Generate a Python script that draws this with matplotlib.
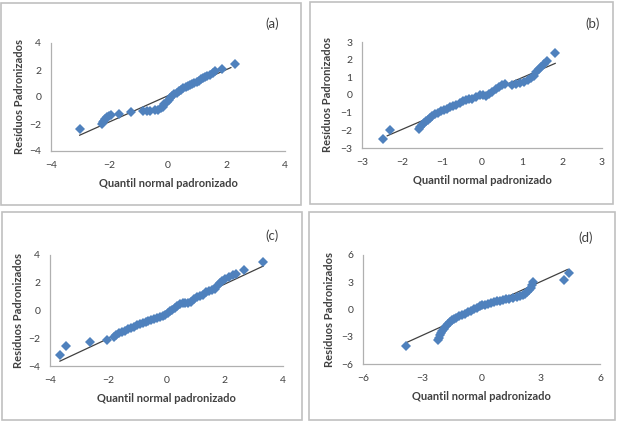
import matplotlib.pyplot as plt
from matplotlib.patches import Rectangle

# Painel (a): quantis normais e residuos padronizados
a_x = [-3.02, -2.27, -2.22, -2.18, -2.14, -2.08, -2.02, -1.96, -1.68, -1.28,
       -0.85, -0.72, -0.6, -0.45, -0.35, -0.25, -0.18, -0.12, -0.05, 0.02,
       0.08, 0.15, 0.22, 0.3, 0.38, 0.45, 0.52, 0.6, 0.68, 0.75,
       0.82, 0.9, 0.98, 1.05, 1.12, 1.2, 1.28, 1.35, 1.45, 1.55,
       1.62, 1.85, 2.3]
a_y = [-2.35, -2.0, -1.85, -1.75, -1.62, -1.5, -1.42, -1.3, -1.27, -1.1,
       -1.05, -1.02, -1.0, -0.98, -0.95, -0.85, -0.72, -0.55, -0.4, -0.25,
       -0.1, 0.05, 0.2, 0.32, 0.45, 0.55, 0.65, 0.72, 0.82, 0.9,
       1.0, 1.05, 1.12, 1.2, 1.3, 1.4, 1.5, 1.58, 1.65, 1.8,
       1.9, 2.05, 2.48]
a_line_x = [-3.02, 2.15]
a_line_y = [-2.83, 2.18]

# Painel (b)
b_x = [-2.48, -2.29, -1.58, -1.55, -1.5, -1.45, -1.4, -1.35, -1.3, -1.25,
       -1.18, -1.1, -1.02, -0.95, -0.88, -0.8, -0.72, -0.64, -0.56, -0.48,
       -0.4, -0.32, -0.24, -0.15, -0.06, 0.02, 0.1, 0.18, 0.26, 0.34,
       0.42, 0.5, 0.58, 0.75, 0.85, 0.95, 1.05, 1.15, 1.22, 1.3,
       1.36, 1.42, 1.48, 1.55, 1.62, 1.82]
b_y = [-2.5, -2.0, -1.9, -1.82, -1.72, -1.6, -1.5, -1.4, -1.28, -1.2,
       -1.1, -1.0, -0.92, -0.85, -0.78, -0.7, -0.62, -0.55, -0.45, -0.36,
       -0.3, -0.25, -0.2, -0.1, 0.0, 0.02, -0.05, 0.08, 0.18, 0.32,
       0.45, 0.55, 0.6, 0.58, 0.6, 0.66, 0.76, 0.86, 0.95, 1.1,
       1.3, 1.45, 1.6, 1.75, 1.95, 2.38]
b_line_x = [-2.37, 1.83]
b_line_y = [-2.31, 1.79]

# Painel (c)
c_x = [-3.66, -3.46, -2.62, -2.05, -1.8, -1.72, -1.62, -1.52, -1.42, -1.32,
       -1.22, -1.12, -1.02, -0.92, -0.82, -0.72, -0.62, -0.52, -0.42, -0.32,
       -0.22, -0.12, -0.04, 0.05, 0.12, 0.2, 0.28, 0.36, 0.45, 0.55,
       0.65, 0.75, 0.85, 0.95, 1.05, 1.15, 1.25, 1.35, 1.45, 1.55,
       1.65, 1.75, 1.82, 1.9, 2.0, 2.15, 2.3, 2.4, 2.65, 3.33]
c_y = [-3.18, -2.58, -2.28, -2.1, -1.88, -1.78, -1.65, -1.55, -1.45, -1.35,
       -1.26, -1.18, -1.08, -1.0, -0.92, -0.85, -0.78, -0.7, -0.6, -0.52,
       -0.45, -0.4, -0.3, -0.18, -0.05, 0.05, 0.15, 0.32, 0.5, 0.55,
       0.55, 0.52, 0.6, 0.8, 0.98, 1.05, 1.15, 1.3, 1.4, 1.45,
       1.55, 1.8, 2.0, 2.15, 2.3, 2.4, 2.55, 2.65, 2.95, 3.5]
c_line_x = [-3.66, 3.32]
c_line_y = [-3.65, 3.2]

# Painel (d)
d_x = [-3.8, -2.2, -2.15, -2.1, -2.05, -2.0, -1.9, -1.8, -1.7, -1.6,
       -1.5, -1.4, -1.3, -1.15, -1.0, -0.85, -0.7, -0.55, -0.4, -0.25,
       -0.1, 0.05, 0.2, 0.35, 0.5, 0.65, 0.8, 0.95, 1.1, 1.25,
       1.4, 1.6, 1.8, 1.95, 2.1, 2.2, 2.3, 2.4, 2.5, 2.55,
       2.62, 4.2, 4.42]
d_y = [-4.0, -3.35, -3.1, -2.8, -2.55, -2.35, -2.1, -1.85, -1.6, -1.4,
       -1.2, -1.05, -0.9, -0.75, -0.6, -0.45, -0.3, -0.15, 0.05, 0.2,
       0.35, 0.45, 0.55, 0.62, 0.7, 0.8, 0.9, 0.98, 1.05, 1.15,
       1.2, 1.3, 1.35, 1.45, 1.6, 1.75, 1.9, 2.1, 2.4, 2.7,
       3.0, 3.2, 4.0]
d_line_x = [-3.78, 4.35]
d_line_y = [-3.62, 4.4]

ticks_abc = [-4, -2, 0, 2, 4]
ticks_b = [-3, -2, -1, 0, 1, 2, 3]
ticks_d = [-6, -3, 0, 3, 6]

plt.rcParams['font.family'] = ['Lato', 'DejaVu Sans']
text_color = '#404040'
blue = '#4F81BD'

fig = plt.figure(figsize=(6.21, 4.21), dpi=100)
W, H = 621, 421


def box(x0, y0, x1, y1):
    # moldura cinza de cada painel (em pixels, origem no topo)
    fig.add_artist(Rectangle((x0 / W, 1 - y1 / H), (x1 - x0) / W, (y1 - y0) / H,
                             transform=fig.transFigure, fill=False,
                             edgecolor='#c0c0c0', linewidth=1.2))


def panel(rect, xs, ys, lx, ly, ticks, letter, letter_pos, ylab_x):
    left, top, right, bottom = rect
    ax = fig.add_axes([left / W, 1 - bottom / H, (right - left) / W, (bottom - top) / H])
    ax.plot(lx, ly, color='#404040', linewidth=0.9, zorder=2)
    ax.plot(xs, ys, 'D', color=blue, markersize=5.2, markeredgewidth=0, zorder=3)
    ax.set_xlim(ticks[0], ticks[-1])
    ax.set_ylim(ticks[0], ticks[-1])
    ax.set_xticks(ticks)
    ax.set_yticks(ticks)
    ax.tick_params(length=0, labelsize=7.5, colors=text_color, pad=7)
    for s in ['top', 'right']:
        ax.spines[s].set_visible(False)
    for s in ['left', 'bottom']:
        ax.spines[s].set_color('#b0b0b0')
        ax.spines[s].set_linewidth(0.9)
    ax.set_xlabel('Quantil normal padronizado', fontsize=8, fontweight='bold',
                  color=text_color, labelpad=6)
    ax.set_ylabel('Resíduos Padronizados', fontsize=8, fontweight='bold',
                  color=text_color)
    ax.yaxis.set_label_coords((ylab_x - left) / (right - left), 0.5)
    fig.text(letter_pos[0] / W, 1 - letter_pos[1] / H, letter, fontsize=9.5,
             color=text_color, ha='center', va='center')


# Molduras
box(1, 3, 301, 205)
box(310, 2, 613, 204)
box(2, 212, 302, 420)
box(309, 212, 615, 420)

# Quatro graficos de probabilidade normal
panel((51, 43, 285, 151), a_x, a_y, a_line_x, a_line_y, ticks_abc, '(a)', (272, 24), 25)
panel((362, 42, 602, 148), b_x, b_y, b_line_x, b_line_y, ticks_b, '(b)', (593, 24), 333)
panel((50, 255, 283, 366), c_x, c_y, c_line_x, c_line_y, ticks_abc, '(c)', (272, 236), 24)
panel((363, 255, 600, 364), d_x, d_y, d_line_x, d_line_y, ticks_d, '(d)', (586, 238), 335)

plt.savefig('out.png', dpi=100)
